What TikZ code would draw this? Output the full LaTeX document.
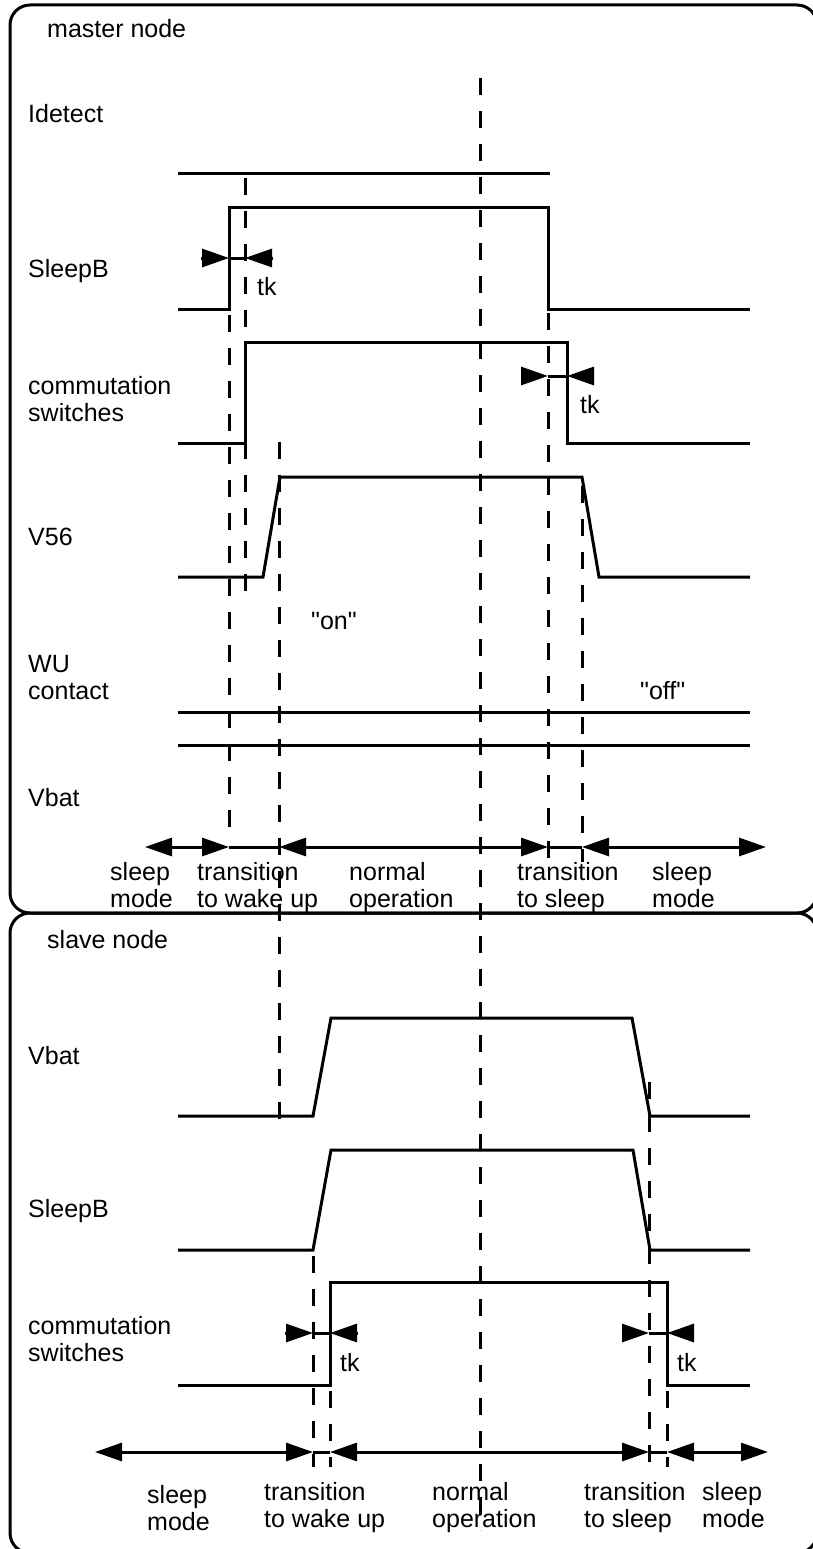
\documentclass[tikz,border=0pt]{standalone}
\usepackage{fontspec}
\setmainfont{Liberation Sans}
\usetikzlibrary{arrows.meta}
\begin{document}
\begin{tikzpicture}[x=1pt,y=-1pt,
  wave/.style={line width=3pt, line join=miter},
  guide/.style={line width=3pt, dash pattern=on 17pt off 16pt},
  frame/.style={line width=3pt, rounded corners=20pt},
  lbl/.style={anchor=base west, inner sep=0pt, font=\fontsize{25}{30}\selectfont},
  tip/.tip={Triangle[length=27pt,width=18pt]},
  span/.style={line width=3pt, tip-tip},
  tohead/.style={line width=3pt, -tip},
  plain/.style={line width=3pt}]
\useasboundingbox (0,0) rectangle (812,1549);

% ---------- frames ----------
\draw[frame] (10,5) rectangle (817,913);
\draw[frame] (10,913) rectangle (817,1553);

% ---------- master node ----------
\node[lbl] (mtitle) at (47,38) {master node};
\node[lbl] (lIdet) at (28,123) {Idetect};
\node[lbl] (lSlB) at (28,277) {SleepB};
\node[lbl] (lCom1) at (28,394) {commutation};
\node[lbl] (lCom2) at (28,421) {switches};
\node[lbl] (lV56) at (28,545) {V56};
\node[lbl] (lWU1) at (28,672) {WU};
\node[lbl] (lWU2) at (28,699) {contact};
\node[lbl] (lVb) at (28,806) {Vbat};
\node[lbl] (on) at (311,629) {\textquotedbl on\textquotedbl};
\node[lbl] (off) at (640,699) {\textquotedbl off\textquotedbl};

% waveforms
\draw[wave] (178,174) -- (550,174);
\draw[wave] (178,309) -- (229,309) -- (229,207) -- (548,207) -- (548,309) -- (750,309);
\draw[wave] (178,443) -- (245,443) -- (245,342) -- (567,342) -- (567,443) -- (750,443);
\draw[wave] (178,577) -- (263,577) -- (280,477) -- (582,477) -- (599,577) -- (750,577);
\draw[wave] (178,712) -- (750,712);
\draw[wave] (178,745) -- (750,745);

% timing guides
\draw[guide] (229,315) -- (229,832);
\draw[guide] (245,178) -- (245,596);
\draw[guide] (279,442) -- (279,1132);
\draw[guide] (480,78) -- (480,1530);
\draw[guide] (548,313) -- (548,862);
\draw[guide] (582,486) -- (582,862);

% tk delays
\draw[tohead] (201,258) -- (229,258);
\draw[plain] (229,258) -- (245,258);
\draw[tohead] (273,258) -- (245,258);
\node[lbl] (tk1) at (257,295) {tk};
\draw[tohead] (521,376) -- (548,376);
\draw[plain] (548,376) -- (567,376);
\draw[tohead] (594,376) -- (567,376);
\node[lbl] (tk2) at (580,413) {tk};

% phases
\draw[span] (145,847) -- (229,847);
\draw[plain] (229,847) -- (279,847);
\draw[span] (279,847) -- (548,847);
\draw[plain] (548,847) -- (582,847);
\draw[span] (582,847) -- (766,847);
\node[lbl] (m1a) at (110,880) {sleep};
\node[lbl] (m1b) at (110,907) {mode};
\node[lbl] (m2a) at (197,880) {transition};
\node[lbl] (m2b) at (197,907) {to wake up};
\node[lbl] (m3a) at (349,880) {normal};
\node[lbl] (m3b) at (349,907) {operation};
\node[lbl] (m4a) at (517,880) {transition};
\node[lbl] (m4b) at (517,907) {to sleep};
\node[lbl] (m5a) at (652,880) {sleep};
\node[lbl] (m5b) at (652,907) {mode};

% ---------- slave node ----------
\node[lbl] (stitle) at (47,948) {slave node};
\node[lbl] (sVb) at (28,1064) {Vbat};
\node[lbl] (sSlB) at (28,1217) {SleepB};
\node[lbl] (sCom1) at (28,1334) {commutation};
\node[lbl] (sCom2) at (28,1361) {switches};

\draw[wave] (178,1116) -- (313,1116) -- (331,1018) -- (632,1018) -- (650,1116) -- (750,1116);
\draw[wave] (178,1250) -- (313,1250) -- (331,1150) -- (633,1150) -- (650,1250) -- (750,1250);
\draw[wave] (178,1385) -- (330,1385) -- (330,1282) -- (667,1282) -- (667,1385) -- (750,1385);

\draw[guide] (313,1256) -- (313,1467);
\draw[guide] (330,1391) -- (330,1467);
\draw[guide] (649,1082) -- (649,1467);
\draw[guide] (667,1391) -- (667,1467);

\draw[tohead] (285,1333) -- (313,1333);
\draw[plain] (313,1333) -- (330,1333);
\draw[tohead] (358,1333) -- (330,1333);
\node[lbl] (tk3) at (340,1371) {tk};
\draw[tohead] (622,1333) -- (649,1333);
\draw[plain] (649,1333) -- (667,1333);
\draw[tohead] (694,1333) -- (667,1333);
\node[lbl] (tk4) at (677,1371) {tk};

\draw[span] (95,1452) -- (313,1452);
\draw[plain] (313,1452) -- (330,1452);
\draw[span] (330,1452) -- (649,1452);
\draw[plain] (649,1452) -- (667,1452);
\draw[span] (667,1452) -- (768,1452);
\node[lbl] (s1a) at (147,1503) {sleep};
\node[lbl] (s1b) at (147,1530) {mode};
\node[lbl] (s2a) at (264,1500) {transition};
\node[lbl] (s2b) at (264,1527) {to wake up};
\node[lbl] (s3a) at (432,1500) {normal};
\node[lbl] (s3b) at (432,1527) {operation};
\node[lbl] (s4a) at (584,1500) {transition};
\node[lbl] (s4b) at (584,1527) {to sleep};
\node[lbl] (s5a) at (702,1500) {sleep};
\node[lbl] (s5b) at (702,1527) {mode};
\end{tikzpicture}
\end{document}
